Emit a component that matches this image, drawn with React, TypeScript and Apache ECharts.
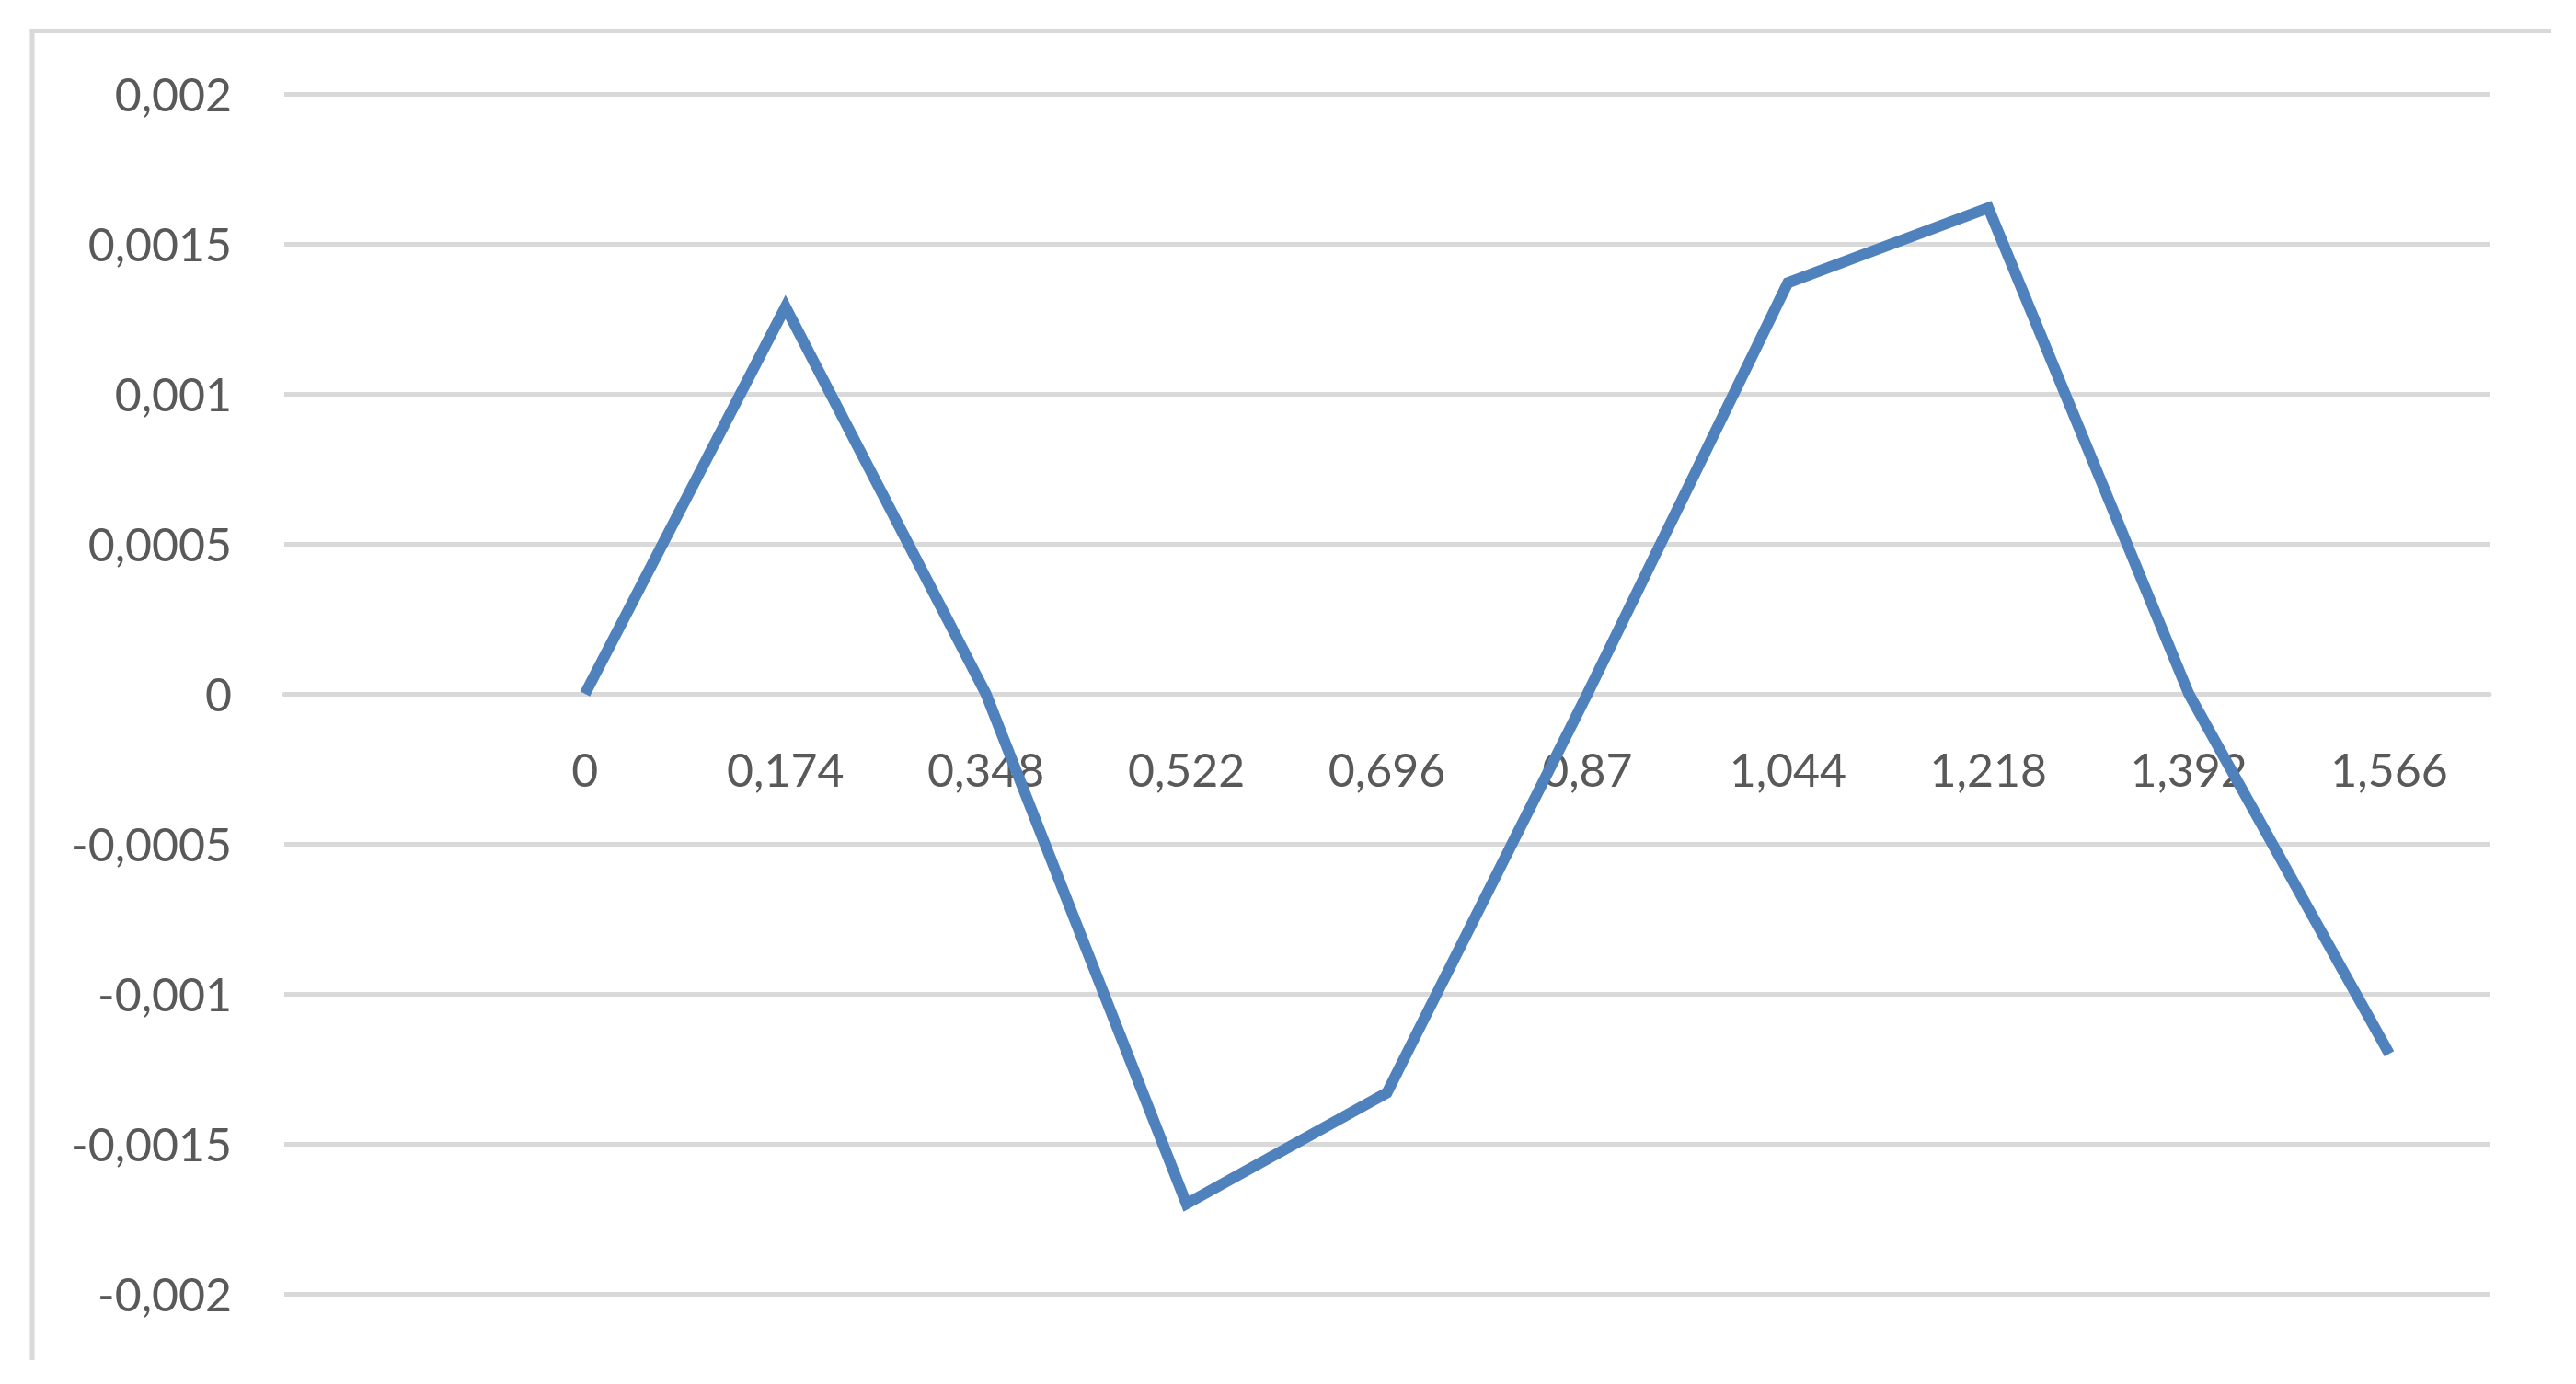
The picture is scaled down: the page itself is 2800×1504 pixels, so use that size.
import React, { useEffect, useRef } from "react";
import * as echarts from "echarts";

const xCategories: string[] = ["", "0", "0,174", "0,348", "0,522", "0,696", "0,87", "1,044", "1,218", "1,392", "1,566"];
const seriesValues: (number | string)[] = ["-", 0, 0.00129, 0, -0.0017, -0.00133, 0, 0.00137, 0.00162, 0, -0.0012];
const yMin = -0.002;
const yMax = 0.002;
const yStep = 0.0005;

const FONT = "Lato, 'Open Sans', 'Liberation Sans', sans-serif";
const TEXT_COLOR = "#595959";
const GRID_COLOR = "#D9D9D9";

const GRID_TOP = 102;
const GRID_BOTTOM = 98;
const CHART_H = 1504;

function fmtY(v: number): string {
  const s = parseFloat(v.toFixed(6)).toString();
  return s.replace(".", ",");
}

export default function App() {
  const ref = useRef<HTMLDivElement>(null);
  useEffect(() => {
    document.body.style.margin = "0";
    if (!ref.current) return;
    const chart = echarts.init(ref.current, undefined, { renderer: "svg" });
    const gridH = CHART_H - GRID_TOP - GRID_BOTTOM;
    // position of value 0 inside the grid, measured from the bottom edge
    const zeroFromBottom = (gridH * (0 - yMin)) / (yMax - yMin);
    chart.setOption({
      animation: false,
      backgroundColor: "#ffffff",
      grid: { left: 309, right: 94, top: GRID_TOP, bottom: GRID_BOTTOM, containLabel: false },
      graphic: [
        {
          type: "line",
          shape: { x1: 32.5, y1: 33.5, x2: 2773, y2: 33.5 },
          style: { stroke: GRID_COLOR, lineWidth: 5 },
          z: -1,
        },
        {
          type: "line",
          shape: { x1: 35, y1: 31, x2: 35, y2: 1478 },
          style: { stroke: GRID_COLOR, lineWidth: 5 },
          z: -1,
        },
      ],
      xAxis: {
        type: "category",
        data: xCategories,
        boundaryGap: true,
        position: "bottom",
        offset: -zeroFromBottom,
        axisLine: { show: true, onZero: false, lineStyle: { color: GRID_COLOR, width: 5 } },
        axisTick: { show: false },
        splitLine: { show: false },
        axisLabel: {
          interval: 0,
          margin: 57,
          fontFamily: FONT,
          fontSize: 50,
          color: TEXT_COLOR,
        },
        z: 1,
      },
      yAxis: {
        type: "value",
        min: yMin,
        max: yMax,
        interval: yStep,
        axisLine: { show: false },
        axisTick: { show: false },
        splitLine: { show: true, lineStyle: { color: GRID_COLOR, width: 5 } },
        axisLabel: {
          margin: 57,
          fontFamily: FONT,
          fontSize: 50,
          color: TEXT_COLOR,
          formatter: (v: number) => fmtY(v),
        },
      },
      series: [
        {
          type: "line",
          data: seriesValues,
          showSymbol: false,
          symbol: "none",
          lineStyle: { color: "#4F81BD", width: 12, join: "miter", cap: "butt" },
          itemStyle: { color: "#4F81BD" },
          z: 5,
        },
      ],
    });
    return () => chart.dispose();
  }, []);
  return <div ref={ref} style={{ width: 2800, height: 1504, background: "#fff" }} />;
}
